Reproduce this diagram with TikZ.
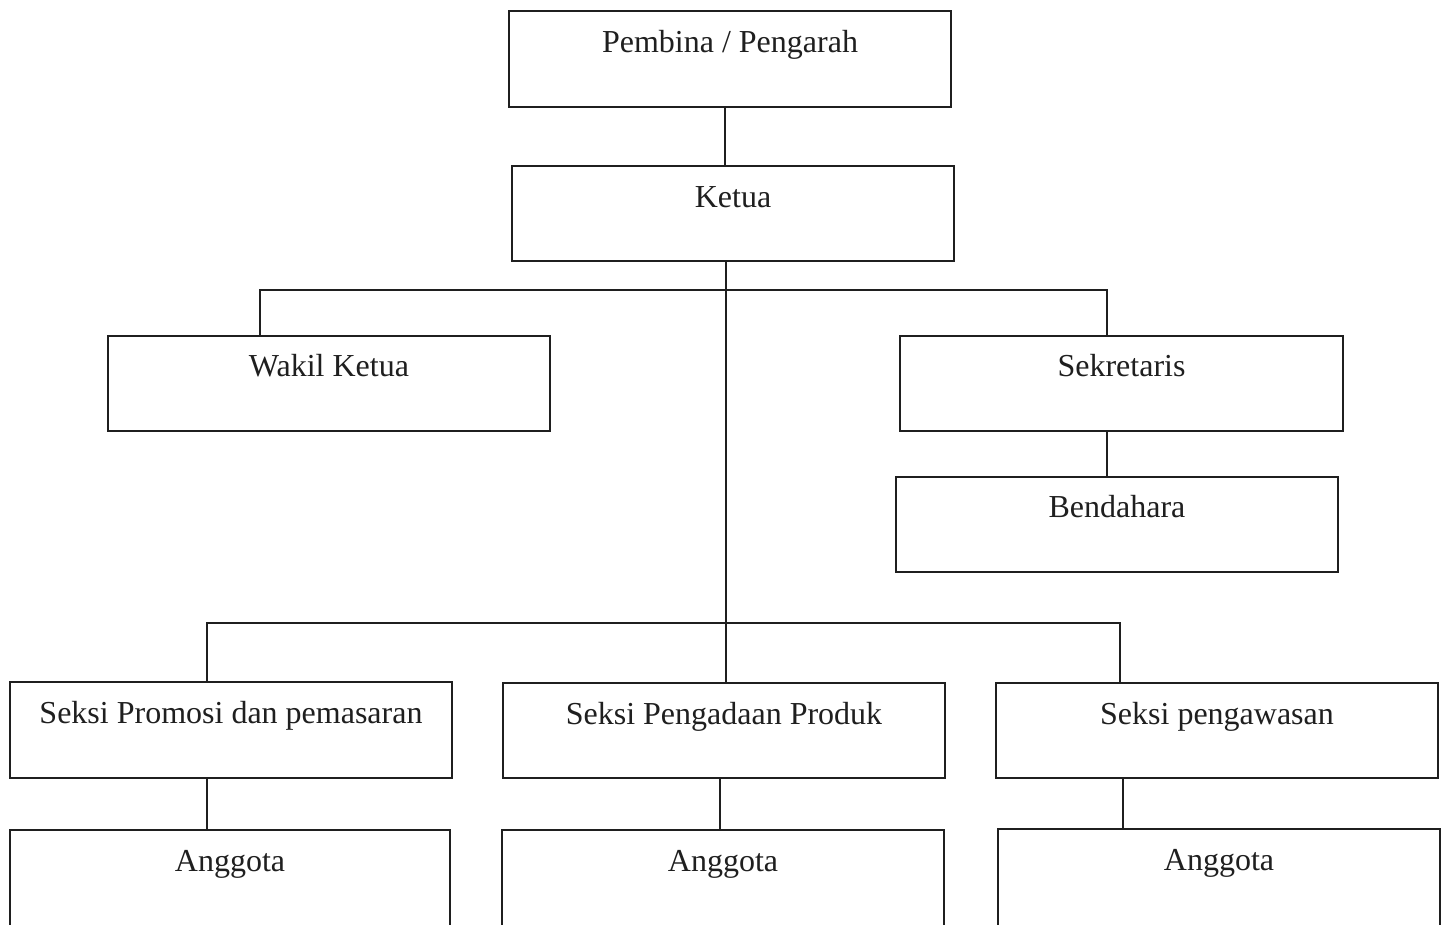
\documentclass[tikz,border=0pt]{standalone}
\usepackage{fontspec}
\setmainfont{Liberation Serif}
\begin{document}
\begin{tikzpicture}[x=1pt,y=-1pt,
  box/.style={draw=black!88, line width=1.8pt, rectangle, inner sep=0pt, minimum width=442pt, minimum height=95pt},
  lbl/.style={anchor=base, font=\fontsize{32}{36}\selectfont, text=black!88, inner sep=0pt},
  conn/.style={draw=black!88, line width=1.8pt}]
\useasboundingbox (0,0) rectangle (1447,924);
\fill[white] (0,0) rectangle (1447,924);
% boxes
\node[box, minimum height=96pt] (pembina) at (730,59) {};
\node[box] (ketua) at (733,213.5) {};
\node[box] (wakil) at (329,383.5) {};
\node[box, minimum width=443pt] (sek) at (1121.5,383.5) {};
\node[box] (bend) at (1117,524.5) {};
\node[box, minimum height=96pt] (promosi) at (231,730) {};
\node[box] (pengadaan) at (724,730.5) {};
\node[box] (pengawasan) at (1217,730.5) {};
\node[box, minimum width=440pt, minimum height=140pt] (ang1) at (230,900) {};
\node[box, minimum width=442pt, minimum height=140pt] (ang2) at (723,900) {};
\node[box, minimum width=442pt, minimum height=140pt] (ang3) at (1219,899) {};
% labels
\node[lbl] (tpembina) at ([yshift=-42pt]pembina.north) {Pembina / Pengarah};
\node[lbl] (tketua) at ([yshift=-42pt]ketua.north) {Ketua};
\node[lbl] (twakil) at ([yshift=-41pt]wakil.north) {Wakil Ketua};
\node[lbl] (tsek) at ([yshift=-41pt]sek.north) {Sekretaris};
\node[lbl] (tbend) at ([yshift=-41pt]bend.north) {Bendahara};
\node[lbl] (tpromosi) at ([yshift=-42pt]promosi.north) {Seksi Promosi dan pemasaran};
\node[lbl] (tpengadaan) at ([yshift=-42pt]pengadaan.north) {Seksi Pengadaan Produk};
\node[lbl] (tpengawasan) at ([yshift=-42pt]pengawasan.north) {Seksi pengawasan};
\node[lbl] (tang1) at ([yshift=-42pt]ang1.north) {Anggota};
\node[lbl] (tang2) at ([yshift=-42pt]ang2.north) {Anggota};
\node[lbl] (tang3) at ([yshift=-42pt]ang3.north) {Anggota};
% junction coordinates
\coordinate (c0) at (725,0);
\coordinate (j1) at (726,290);
\coordinate (j2) at (726,623);
\coordinate (t1) at (260,290);
\coordinate (t2) at (1107,290);
\coordinate (b1) at (207,623);
\coordinate (b3) at (1120,623);
\coordinate (d2) at (720,0);
\coordinate (d3) at (1123,0);
% connectors
\draw[conn] (pembina.south -| c0) -- (ketua.north -| c0);
\draw[conn] (ketua.south -| j1) -- (j2);
\draw[conn] (wakil.north -| t1) -- (t1) -- (t2) -- (sek.north -| t2);
\draw[conn] (sek.south -| t2) -- (bend.north -| t2);
\draw[conn] (promosi.north -| b1) -- (b1) -- (b3) -- (pengawasan.north -| b3);
\draw[conn] (j2) -- (pengadaan.north -| j2);
\draw[conn] (promosi.south -| b1) -- (ang1.north -| b1);
\draw[conn] (pengadaan.south -| d2) -- (ang2.north -| d2);
\draw[conn] (pengawasan.south -| d3) -- (ang3.north -| d3);
\end{tikzpicture}
\end{document}
